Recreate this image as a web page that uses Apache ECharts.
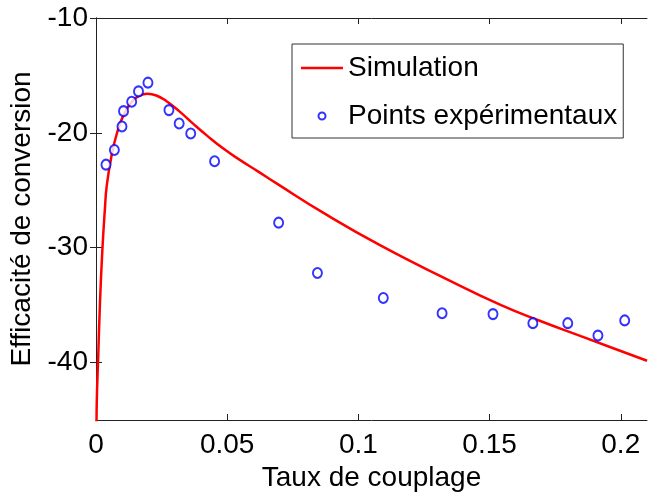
<!DOCTYPE html>
<html>
<head>
<meta charset="utf-8">
<script src="https://cdn.jsdelivr.net/npm/echarts@6/dist/echarts.min.js"></script>
<style>
html,body{margin:0;padding:0;background:#fff;}
#chart{width:651px;height:500px;}
</style>
</head>
<body>
<div id="chart"></div>
<script>
const xTicks = [0, 0.05, 0.1, 0.15, 0.2];
const yTicks = [-40, -30, -20, -10];

const simX = [0.0002, 0.00027, 0.00087, 0.0015, 0.0024, 0.0034, 0.0041, 0.0060, 0.0079, 0.0104, 0.0136, 0.0167, 0.0195, 0.0230, 0.0269, 0.0319, 0.0370, 0.0421, 0.0484, 0.0548, 0.0617, 0.0688, 0.0867, 0.1084, 0.1338, 0.1544, 0.1696, 0.1848, 0.2095, 0.2100];
const simY = [-45.5, -43.7, -39.3, -34.9, -30.3, -26.6, -24.6, -21.9, -20.1, -18.5, -17.3, -16.75, -16.6, -16.75, -17.25, -18.15, -19.2, -20.2, -21.35, -22.35, -23.35, -24.4, -26.97, -29.8, -32.75, -35.0, -36.4, -37.7, -39.8, -39.85];

const expX = [0.0038, 0.0070, 0.0099, 0.0105, 0.0136, 0.0162, 0.0198, 0.0278, 0.0317, 0.0361, 0.0452, 0.0696, 0.0844, 0.1095, 0.1319, 0.1513, 0.1665, 0.1798, 0.1913, 0.2015];
const expY = [-22.77, -21.49, -19.45, -18.11, -17.29, -16.39, -15.63, -18.02, -19.19, -20.06, -22.47, -27.82, -32.2, -34.38, -35.7, -35.78, -36.57, -36.57, -37.65, -36.33];

const simName = 'Simulation';
const expName = 'Points expérimentaux';

const FONT = "'Liberation Sans', Arial, Helvetica, sans-serif";
const simData = simX.map((x, i) => [x, simY[i]]);
const expData = expX.map((x, i) => [x, expY[i]]);

const chart = echarts.init(document.getElementById('chart'), null, {renderer: 'canvas'});
const axisLineStyle = {color: '#222', width: 1};
chart.setOption({
  animation: false,
  backgroundColor: '#fff',
  textStyle: {fontFamily: FONT},
  grid: {left: 96, right: 4, top: 18, bottom: 80, containLabel: false},
  legend: {
    orient: 'vertical',
    left: 292, top: 44,
    padding: [9, 6, 7, 9],
    itemWidth: 42, itemHeight: 7, itemGap: 18,
    borderColor: '#333', borderWidth: 1, backgroundColor: '#fff',
    textStyle: {fontFamily: FONT, fontSize: 28, color: '#000', lineHeight: 30},
    data: [
      {name: simName, icon: 'path://M0,0H42V2.5H0Z', itemStyle: {color: '#ff0000', borderWidth: 0}},
      {name: expName, icon: 'emptyCircle'}
    ]
  },
  xAxis: [{
    type: 'value', min: 0, max: 0.21, position: 'bottom',
    name: 'Taux de couplage', nameLocation: 'middle', nameGap: 44,
    nameTextStyle: {fontSize: 28, color: '#000', fontFamily: FONT},
    axisLine: {show: true, lineStyle: axisLineStyle},
    axisTick: {show: true, inside: true, length: 6, customValues: xTicks, lineStyle: axisLineStyle},
    axisLabel: {show: true, customValues: xTicks, fontSize: 28, color: '#000', margin: 11, fontFamily: FONT,
      formatter: v => String(v)},
    splitLine: {show: false}
  }, {
    type: 'value', min: 0, max: 0.21, position: 'top',
    axisLine: {show: true, lineStyle: axisLineStyle},
    axisTick: {show: true, inside: true, length: 6, customValues: xTicks, lineStyle: axisLineStyle},
    axisLabel: {show: false},
    splitLine: {show: false}
  }],
  yAxis: [{
    type: 'value', min: -45, max: -10, position: 'left',
    name: 'Efficacité de conversion', nameLocation: 'middle', nameGap: 50,
    nameTextStyle: {fontSize: 28, color: '#000', fontFamily: FONT},
    axisLine: {show: true, lineStyle: axisLineStyle},
    axisTick: {show: true, inside: true, length: 6, customValues: yTicks, lineStyle: axisLineStyle},
    axisLabel: {show: true, customValues: yTicks, fontSize: 28, color: '#000', margin: 8, fontFamily: FONT},
    splitLine: {show: false}
  }, {
    type: 'value', min: -45, max: -10, position: 'right',
    axisLine: {show: true, lineStyle: axisLineStyle},
    axisTick: {show: true, inside: true, length: 6, customValues: yTicks, lineStyle: axisLineStyle},
    axisLabel: {show: false},
    splitLine: {show: false}
  }],
  series: [{
    name: simName, type: 'line', data: simData,
    xAxisIndex: 0, yAxisIndex: 0,
    symbol: 'none', smooth: 0.5,
    lineStyle: {color: '#ff0000', width: 2.5},
    itemStyle: {color: '#ff0000'},
    clip: true, z: 2
  }, {
    name: expName, type: 'scatter', data: expData,
    xAxisIndex: 0, yAxisIndex: 0,
    symbol: 'emptyCircle', symbolSize: [9, 10], symbolKeepAspect: false,
    itemStyle: {color: '#0000ff', borderColor: '#0000ff', borderWidth: 1},
    z: 3
  }]
});
</script>
</body>
</html>
